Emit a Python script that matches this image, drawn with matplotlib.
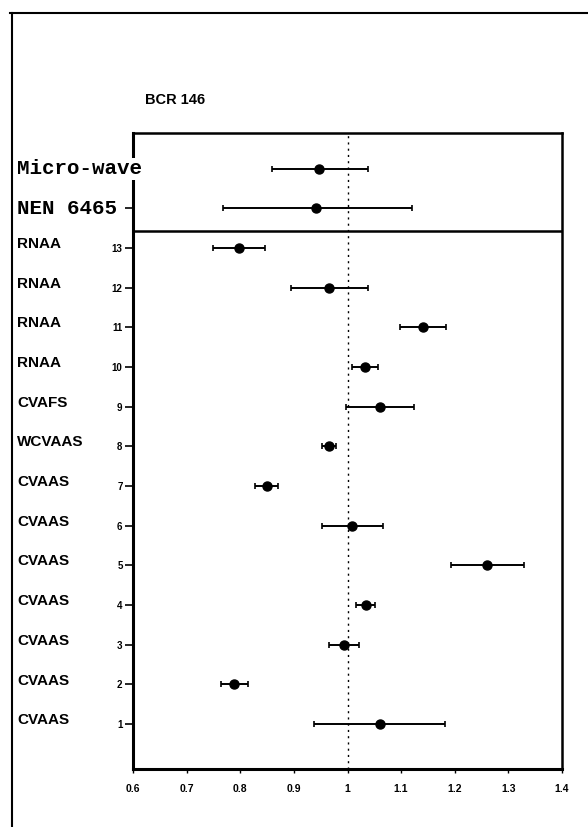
import matplotlib
matplotlib.use("Agg")
import matplotlib.pyplot as plt
from matplotlib.lines import Line2D
import matplotlib.transforms as mtrans

# labs 1..13 (bottom to top)
methods = ["CVAAS", "CVAAS", "CVAAS", "CVAAS", "CVAAS", "CVAAS", "CVAAS",
           "WCVAAS", "CVAFS", "RNAA", "RNAA", "RNAA", "RNAA"]
labs = [1, 2, 3, 4, 5, 6, 7, 8, 9, 10, 11, 12, 13]
means = [1.060, 0.789, 0.993, 1.034, 1.261, 1.009, 0.849, 0.965, 1.061, 1.033, 1.140, 0.965, 0.797]
lows = [0.938, 0.765, 0.965, 1.016, 1.193, 0.953, 0.828, 0.953, 0.997, 1.009, 1.097, 0.894, 0.749]
highs = [1.181, 0.814, 1.022, 1.052, 1.330, 1.066, 0.870, 0.978, 1.124, 1.057, 1.184, 1.038, 0.846]

# the two digestion methods in the top box
top_names = ["NEN 6465", "Micro-wave"]
top_means = [0.941, 0.947]
top_lows = [0.768, 0.859]
top_highs = [1.120, 1.038]

xticks = [0.6, 0.7, 0.8, 0.9, 1.0, 1.1, 1.2, 1.3, 1.4]
xticklabels = ["0.6", "0.7", "0.8", "0.9", "1", "1.1", "1.2", "1.3", "1.4"]

W, H = 588, 827
fig = plt.figure(figsize=(W / 100, H / 100), dpi=100)
fig.patch.set_facecolor("white")

# axes box in pixels: x 133..562, y 133..769
ax = fig.add_axes([133 / W, 1 - 769 / H, (562 - 133) / W, (769 - 133) / H])
ax.set_xlim(0.6, 1.4)
ax.set_ylim(-0.13, 15.9)

# reference line at 1
ax.axvline(1.0, color="black", linestyle=(0, (1.5, 3)), linewidth=1.0, zorder=1)

# divider between the two boxes
ax.axhline(13.43, color="black", linewidth=1.8, zorder=2)

ylab = [14, 15]
xerr_low = [m - l for m, l in zip(means, lows)]
xerr_high = [h - m for m, h in zip(means, highs)]
ax.errorbar(means, labs, xerr=[xerr_low, xerr_high], fmt="o", color="black",
            markersize=6.5, elinewidth=1.4, capsize=2.5, capthick=1.2, zorder=3)

terr_low = [m - l for m, l in zip(top_means, top_lows)]
terr_high = [h - m for m, h in zip(top_means, top_highs)]
ax.errorbar(top_means, ylab, xerr=[terr_low, terr_high], fmt="o", color="black",
            markersize=6.5, elinewidth=1.4, capsize=2.5, capthick=1.2, zorder=3)

for s in ["left", "bottom"]:
    ax.spines[s].set_linewidth(2.2)
for s in ["top", "right"]:
    ax.spines[s].set_linewidth(1.8)

ax.set_yticks(labs + [14])
ax.set_yticklabels([str(k) for k in labs] + [""], fontsize=7, fontweight="bold",
                   family="Liberation Sans")
ax.tick_params(axis="y", direction="out", length=6, width=1.2, pad=1.5)

ax.set_xticks(xticks)
ax.set_xticklabels(xticklabels, fontsize=7.5, fontweight="bold", family="Liberation Sans")
ax.tick_params(axis="x", direction="out", length=3, width=1.0, pad=8)

# method names on the left, figure x / data y
tr = mtrans.blended_transform_factory(fig.transFigure, ax.transData)
for k, name in zip(labs, methods):
    ax.text(17 / W, k + 0.1, name, transform=tr, ha="left", va="center",
            fontsize=11, fontweight="bold", family="Liberation Sans", clip_on=False)

ax.text(17 / W, 15, top_names[1], transform=tr, ha="left", va="center",
        fontsize=15, fontweight="bold", family="Liberation Mono", clip_on=False,
        bbox=dict(facecolor="white", edgecolor="none", pad=1), zorder=5)
ax.text(17 / W, 14, top_names[0], transform=tr, ha="left", va="center",
        fontsize=15, fontweight="bold", family="Liberation Mono", clip_on=False)

fig.text(145 / W, 1 - 100 / H, "BCR 146", ha="left", va="center",
         fontsize=10.5, fontweight="bold", family="Liberation Sans")

# scanned page frame
fig.add_artist(Line2D([10 / W, 1.0], [1 - 13 / H, 1 - 13 / H], color="black", linewidth=1.5))
fig.add_artist(Line2D([12 / W, 12 / W], [0.0, 1 - 13 / H], color="black", linewidth=1.5))

fig.savefig("out.png", dpi=100, facecolor="white")
